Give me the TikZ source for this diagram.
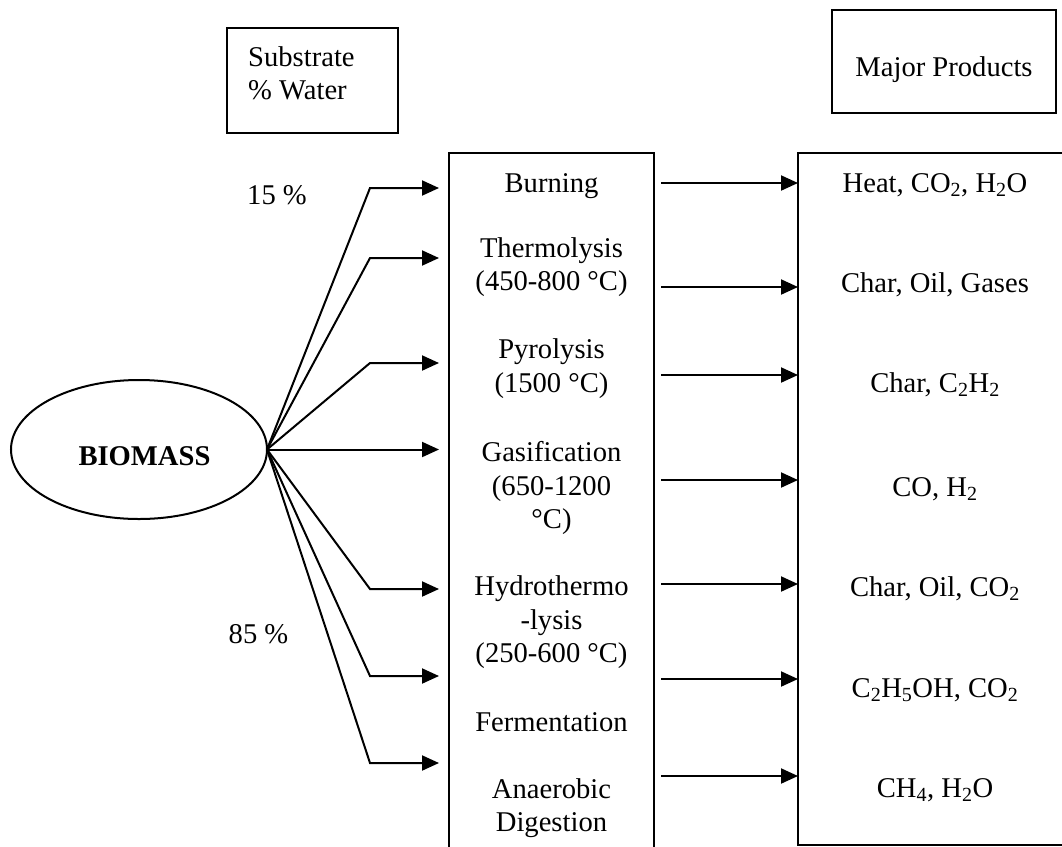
\documentclass[tikz,border=0pt]{standalone}
\usepackage{fontspec}
\setmainfont{Liberation Serif}
\usetikzlibrary{arrows.meta,shapes.geometric}
\begin{document}
\begin{tikzpicture}[x=1pt,y=-1pt,
  font=\fontsize{28.6}{33.5}\selectfont,
  lw/.style={line width=2pt},
  frame/.style={draw,lw,inner sep=0pt,outer sep=0pt},
  txt/.style={inner sep=0pt,align=center},
  arr/.style={lw,-{Triangle[length=17pt,width=15pt]}},
]
\useasboundingbox (0,0) rectangle (1062,846);

% header boxes
\node[frame,minimum width=171.5pt,minimum height=105pt,anchor=north west] (subbox) at (226.5,28) {};
\node[txt,align=left,anchor=west] (subtxt) at (248,76.3) {\strut Substrate\\\strut\% Water};
\node[frame,minimum width=224pt,minimum height=103pt,anchor=north west] (majbox) at (832,10) {};
\node[txt] (majtxt) at (944,69.3) {\strut Major Products};

% biomass
\node[frame,ellipse,minimum width=256pt,minimum height=139pt] (bio) at (139,449.5) {};
\node[txt,font=\fontsize{28.6}{33.5}\selectfont\bfseries] (biot) at (144.5,459) {\strut BIOMASS};

% labels
\node[txt] (p15) at (277,197.3) {\strut 15 \%};
\node[txt] (p85) at (258.5,636.3) {\strut 85 \%};

% process box and product box
\node[frame,minimum width=205pt,minimum height=720pt,anchor=north] (proc) at (551.5,153) {};
\node[frame,minimum width=280pt,minimum height=692pt,anchor=north west] (prod) at (798,153) {};

% process texts
\node[txt] (burn) at (551.5,185.3) {\strut Burning};
\node[txt] (thermo) at (551.5,267.3) {\strut Thermolysis\\\strut(450-800 °C)};
\node[txt] (pyro) at (551.5,368.8) {\strut Pyrolysis\\\strut(1500 °C)};
\node[txt] (gasi) at (551.5,488.3) {\strut Gasification\\\strut(650-1200\\\strut°C)};
\node[txt] (hydro) at (551.5,622.3) {\strut Hydrothermo\\\strut-lysis\\\strut(250-600 °C)};
\node[txt] (ferm) at (551.5,724.3) {\strut Fermentation};
\node[txt] (anae) at (551.5,808.3) {\strut Anaerobic\\\strut Digestion};

% product texts
\node[txt] (r1) at (935,185.3) {\strut Heat, CO\textsubscript{2}, H\textsubscript{2}O};
\node[txt] (r2) at (935,285.3) {\strut Char, Oil, Gases};
\node[txt] (r3) at (935,385.3) {\strut Char, C\textsubscript{2}H\textsubscript{2}};
\node[txt] (r4) at (935,489.3) {\strut CO, H\textsubscript{2}};
\node[txt] (r5) at (935,589.3) {\strut Char, Oil, CO\textsubscript{2}};
\node[txt] (r6) at (935,690.3) {\strut C\textsubscript{2}H\textsubscript{5}OH, CO\textsubscript{2}};
\node[txt] (r7) at (935,790.3) {\strut CH\textsubscript{4}, H\textsubscript{2}O};

% fan arrows from biomass
\coordinate (b1) at (370,188);   \coordinate (t1) at (439,188);
\coordinate (b2) at (370,258);   \coordinate (t2) at (439,258);
\coordinate (b3) at (370,363);   \coordinate (t3) at (439,363);
\coordinate (t4) at (439,449.5);
\coordinate (b5) at (370,589);   \coordinate (t5) at (439,589);
\coordinate (b6) at (370,676);   \coordinate (t6) at (439,676);
\coordinate (b7) at (370,763);   \coordinate (t7) at (439,763);
\draw[arr] (bio.east) -- (b1) -- (t1);
\draw[arr] (bio.east) -- (b2) -- (t2);
\draw[arr] (bio.east) -- (b3) -- (t3);
\draw[arr] (bio.east) -- (t4);
\draw[arr] (bio.east) -- (b5) -- (t5);
\draw[arr] (bio.east) -- (b6) -- (t6);
\draw[arr] (bio.east) -- (b7) -- (t7);

% arrows to products
\coordinate (a1) at (661,183);
\coordinate (a2) at (661,287);
\coordinate (a3) at (661,375);
\coordinate (a4) at (661,480);
\coordinate (a5) at (661,584);
\coordinate (a6) at (661,679);
\coordinate (a7) at (661,776);
\foreach \i in {1,...,7} {\draw[arr] (a\i) -- (a\i -| prod.west);}
\end{tikzpicture}
\end{document}
